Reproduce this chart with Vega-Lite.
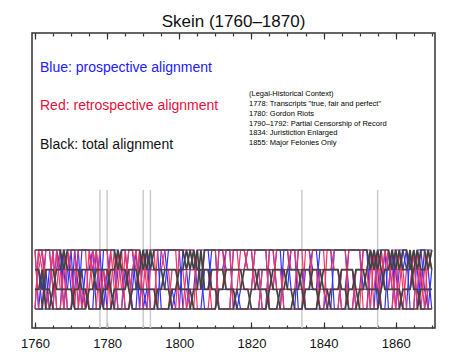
{
"$schema": "https://vega.github.io/schema/vega-lite/v6.json",
"width": 403, "height": 295,
"autosize": "none",
"padding": {"left": 32, "top": 33, "right": 32, "bottom": 33},
"background": "white",
"title": {"text": "Skein (1760–1870)", "font": "Liberation Sans", "fontSize": 17, "fontWeight": "normal", "color": "#111111", "baseline": "alphabetic", "offset": -12, "anchor": "middle"},
"config": {"view": {"stroke": "#333333", "strokeWidth": 1.5}, "axis": {"grid": false, "domain": false, "labelFont": "Liberation Sans", "labelFontSize": 13, "labelColor": "#111111", "tickColor": "#333333", "tickWidth": 1.2, "title": null}},
"data": {"values": [
{"year":1760,"b1":3,"b2":2,"b3":1,"b4":0,"r1":3,"r2":0,"r3":1,"r4":2,"u1":0,"u2":3,"u3":1,"u4":2},
{"year":1761,"b1":3,"b2":2,"b3":1,"b4":0,"r1":0,"r2":3,"r3":1,"r4":2,"u1":3,"u2":0,"u3":1,"u4":2},
{"year":1762,"b1":3,"b2":1,"b3":2,"b4":0,"r1":0,"r2":2,"r3":1,"r4":3,"u1":3,"u2":2,"u3":1,"u4":0},
{"year":1763,"b1":3,"b2":1,"b3":0,"b4":2,"r1":3,"r2":2,"r3":1,"r4":0,"u1":1,"u2":2,"u3":3,"u4":0},
{"year":1764,"b1":3,"b2":1,"b3":0,"b4":2,"r1":3,"r2":2,"r3":0,"r4":1,"u1":1,"u2":0,"u3":3,"u4":2},
{"year":1765,"b1":3,"b2":0,"b3":1,"b4":2,"r1":1,"r2":2,"r3":0,"r4":3,"u1":3,"u2":0,"u3":1,"u4":2},
{"year":1766,"b1":3,"b2":0,"b3":2,"b4":1,"r1":1,"r2":2,"r3":3,"r4":0,"u1":0,"u2":3,"u3":1,"u4":2},
{"year":1767,"b1":3,"b2":0,"b3":2,"b4":1,"r1":3,"r2":2,"r3":1,"r4":0,"u1":0,"u2":2,"u3":1,"u4":3},
{"year":1768,"b1":2,"b2":0,"b3":3,"b4":1,"r1":3,"r2":0,"r3":1,"r4":2,"u1":3,"u2":2,"u3":1,"u4":0},
{"year":1769,"b1":3,"b2":0,"b3":2,"b4":1,"r1":0,"r2":3,"r3":1,"r4":2,"u1":3,"u2":0,"u3":1,"u4":2},
{"year":1770,"b1":3,"b2":0,"b3":2,"b4":1,"r1":0,"r2":2,"r3":1,"r4":3,"u1":1,"u2":0,"u3":3,"u4":2},
{"year":1771,"b1":3,"b2":1,"b3":2,"b4":0,"r1":2,"r2":0,"r3":1,"r4":3,"u1":1,"u2":3,"u3":0,"u4":2},
{"year":1772,"b1":3,"b2":1,"b3":2,"b4":0,"r1":2,"r2":3,"r3":1,"r4":0,"u1":3,"u2":1,"u3":0,"u4":2},
{"year":1773,"b1":3,"b2":2,"b3":1,"b4":0,"r1":0,"r2":3,"r3":1,"r4":2,"u1":0,"u2":1,"u3":3,"u4":2},
{"year":1774,"b1":3,"b2":2,"b3":1,"b4":0,"r1":1,"r2":3,"r3":0,"r4":2,"u1":2,"u2":1,"u3":3,"u4":0},
{"year":1775,"b1":3,"b2":2,"b3":0,"b4":1,"r1":1,"r2":0,"r3":3,"r4":2,"u1":2,"u2":0,"u3":3,"u4":1},
{"year":1776,"b1":3,"b2":2,"b3":0,"b4":1,"r1":3,"r2":0,"r3":1,"r4":2,"u1":3,"u2":0,"u3":2,"u4":1},
{"year":1777,"b1":3,"b2":1,"b3":0,"b4":2,"r1":2,"r2":0,"r3":1,"r4":3,"u1":0,"u2":3,"u3":2,"u4":1},
{"year":1778,"b1":3,"b2":1,"b3":0,"b4":2,"r1":2,"r2":3,"r3":1,"r4":0,"u1":0,"u2":1,"u3":2,"u4":3},
{"year":1779,"b1":3,"b2":0,"b3":1,"b4":2,"r1":0,"r2":3,"r3":1,"r4":2,"u1":3,"u2":1,"u3":2,"u4":0},
{"year":1780,"b1":3,"b2":0,"b3":1,"b4":2,"r1":0,"r2":3,"r3":2,"r4":1,"u1":3,"u2":1,"u3":0,"u4":2},
{"year":1781,"b1":3,"b2":0,"b3":2,"b4":1,"r1":3,"r2":0,"r3":2,"r4":1,"u1":1,"u2":3,"u3":0,"u4":2},
{"year":1782,"b1":3,"b2":1,"b3":2,"b4":0,"r1":1,"r2":0,"r3":2,"r4":3,"u1":0,"u2":3,"u3":1,"u4":2},
{"year":1783,"b1":2,"b2":1,"b3":3,"b4":0,"r1":1,"r2":3,"r3":2,"r4":0,"u1":2,"u2":3,"u3":1,"u4":0},
{"year":1784,"b1":3,"b2":1,"b3":2,"b4":0,"r1":3,"r2":1,"r3":2,"r4":0,"u1":3,"u2":2,"u3":1,"u4":0},
{"year":1785,"b1":3,"b2":1,"b3":2,"b4":0,"r1":0,"r2":1,"r3":2,"r4":3,"u1":3,"u2":0,"u3":1,"u4":2},
{"year":1786,"b1":3,"b2":2,"b3":1,"b4":0,"r1":0,"r2":3,"r3":2,"r4":1,"u1":1,"u2":0,"u3":3,"u4":2},
{"year":1787,"b1":3,"b2":2,"b3":0,"b4":1,"r1":2,"r2":3,"r3":0,"r4":1,"u1":1,"u2":2,"u3":3,"u4":0},
{"year":1788,"b1":3,"b2":2,"b3":0,"b4":1,"r1":3,"r2":2,"r3":0,"r4":1,"u1":3,"u2":2,"u3":1,"u4":0},
{"year":1789,"b1":3,"b2":1,"b3":0,"b4":2,"r1":1,"r2":2,"r3":0,"r4":3,"u1":0,"u2":2,"u3":1,"u4":3},
{"year":1790,"b1":2,"b2":1,"b3":0,"b4":3,"r1":1,"r2":2,"r3":3,"r4":0,"u1":3,"u2":2,"u3":1,"u4":0},
{"year":1791,"b1":3,"b2":1,"b3":0,"b4":2,"r1":3,"r2":2,"r3":1,"r4":0,"u1":3,"u2":2,"u3":0,"u4":1},
{"year":1792,"b1":2,"b2":1,"b3":0,"b4":3,"r1":3,"r2":0,"r3":1,"r4":2,"u1":0,"u2":2,"u3":3,"u4":1},
{"year":1793,"b1":3,"b2":1,"b3":0,"b4":2,"r1":3,"r2":0,"r3":1,"r4":2,"u1":0,"u2":2,"u3":3,"u4":1},
{"year":1794,"b1":3,"b2":0,"b3":1,"b4":2,"r1":0,"r2":3,"r3":1,"r4":2,"u1":0,"u2":2,"u3":3,"u4":1},
{"year":1795,"b1":3,"b2":0,"b3":1,"b4":2,"r1":0,"r2":3,"r3":1,"r4":2,"u1":3,"u2":2,"u3":0,"u4":1},
{"year":1796,"b1":3,"b2":0,"b3":2,"b4":1,"r1":0,"r2":2,"r3":1,"r4":3,"u1":3,"u2":2,"u3":0,"u4":1},
{"year":1797,"b1":3,"b2":0,"b3":2,"b4":1,"r1":0,"r2":2,"r3":1,"r4":3,"u1":1,"u2":2,"u3":0,"u4":3},
{"year":1798,"b1":3,"b2":1,"b3":2,"b4":0,"r1":2,"r2":0,"r3":1,"r4":3,"u1":1,"u2":2,"u3":0,"u4":3},
{"year":1799,"b1":3,"b2":1,"b3":2,"b4":0,"r1":2,"r2":0,"r3":1,"r4":3,"u1":0,"u2":2,"u3":1,"u4":3},
{"year":1800,"b1":3,"b2":2,"b3":1,"b4":0,"r1":2,"r2":3,"r3":1,"r4":0,"u1":0,"u2":2,"u3":1,"u4":3},
{"year":1801,"b1":3,"b2":2,"b3":1,"b4":0,"r1":2,"r2":3,"r3":1,"r4":0,"u1":3,"u2":2,"u3":1,"u4":0},
{"year":1802,"b1":2,"b2":3,"b3":1,"b4":0,"r1":0,"r2":3,"r3":1,"r4":2,"u1":3,"u2":2,"u3":1,"u4":0},
{"year":1803,"b1":3,"b2":2,"b3":1,"b4":0,"r1":1,"r2":3,"r3":0,"r4":2,"u1":3,"u2":0,"u3":1,"u4":2},
{"year":1804,"b1":2,"b2":3,"b3":0,"b4":1,"r1":1,"r2":3,"r3":0,"r4":2,"u1":3,"u2":0,"u3":1,"u4":2},
{"year":1805,"b1":3,"b2":2,"b3":0,"b4":1,"r1":1,"r2":0,"r3":3,"r4":2,"u1":1,"u2":0,"u3":3,"u4":2},
{"year":1806,"b1":1,"b2":2,"b3":0,"b4":3,"r1":1,"r2":0,"r3":3,"r4":2,"u1":1,"u2":0,"u3":3,"u4":2},
{"year":1807,"b1":3,"b2":2,"b3":0,"b4":1,"r1":3,"r2":0,"r3":1,"r4":2,"u1":1,"u2":2,"u3":3,"u4":0},
{"year":1808,"b1":3,"b2":2,"b3":0,"b4":1,"r1":3,"r2":0,"r3":1,"r4":2,"u1":1,"u2":2,"u3":3,"u4":0},
{"year":1809,"b1":3,"b2":1,"b3":0,"b4":2,"r1":3,"r2":2,"r3":1,"r4":0,"u1":3,"u2":2,"u3":1,"u4":0},
{"year":1810,"b1":3,"b2":1,"b3":0,"b4":2,"r1":3,"r2":2,"r3":1,"r4":0,"u1":3,"u2":2,"u3":1,"u4":0},
{"year":1811,"b1":3,"b2":0,"b3":1,"b4":2,"r1":0,"r2":2,"r3":1,"r4":3,"u1":0,"u2":2,"u3":1,"u4":3},
{"year":1812,"b1":3,"b2":0,"b3":1,"b4":2,"r1":0,"r2":2,"r3":1,"r4":3,"u1":0,"u2":2,"u3":1,"u4":3},
{"year":1813,"b1":3,"b2":0,"b3":2,"b4":1,"r1":0,"r2":2,"r3":3,"r4":1,"u1":0,"u2":3,"u3":1,"u4":2},
{"year":1814,"b1":3,"b2":0,"b3":2,"b4":1,"r1":0,"r2":2,"r3":3,"r4":1,"u1":0,"u2":3,"u3":1,"u4":2},
{"year":1815,"b1":3,"b2":0,"b3":2,"b4":1,"r1":3,"r2":2,"r3":0,"r4":1,"u1":3,"u2":0,"u3":1,"u4":2},
{"year":1816,"b1":3,"b2":1,"b3":2,"b4":0,"r1":3,"r2":2,"r3":0,"r4":1,"u1":3,"u2":0,"u3":1,"u4":2},
{"year":1817,"b1":3,"b2":1,"b3":2,"b4":0,"r1":1,"r2":2,"r3":0,"r4":3,"u1":3,"u2":1,"u3":0,"u4":2},
{"year":1818,"b1":3,"b2":2,"b3":1,"b4":0,"r1":1,"r2":2,"r3":0,"r4":3,"u1":3,"u2":1,"u3":0,"u4":2},
{"year":1819,"b1":3,"b2":2,"b3":1,"b4":0,"r1":1,"r2":3,"r3":0,"r4":2,"u1":2,"u2":1,"u3":0,"u4":3},
{"year":1820,"b1":3,"b2":2,"b3":0,"b4":1,"r1":1,"r2":3,"r3":0,"r4":2,"u1":2,"u2":1,"u3":0,"u4":3},
{"year":1821,"b1":3,"b2":2,"b3":0,"b4":1,"r1":3,"r2":1,"r3":0,"r4":2,"u1":2,"u2":3,"u3":0,"u4":1},
{"year":1822,"b1":3,"b2":1,"b3":0,"b4":2,"r1":3,"r2":1,"r3":0,"r4":2,"u1":2,"u2":3,"u3":0,"u4":1},
{"year":1823,"b1":3,"b2":1,"b3":0,"b4":2,"r1":3,"r2":1,"r3":2,"r4":0,"u1":0,"u2":3,"u3":2,"u4":1},
{"year":1824,"b1":3,"b2":1,"b3":0,"b4":2,"r1":3,"r2":1,"r3":2,"r4":0,"u1":0,"u2":3,"u3":2,"u4":1},
{"year":1825,"b1":3,"b2":0,"b3":1,"b4":2,"r1":0,"r2":1,"r3":2,"r4":3,"u1":3,"u2":0,"u3":2,"u4":1},
{"year":1826,"b1":3,"b2":0,"b3":2,"b4":1,"r1":0,"r2":1,"r3":2,"r4":3,"u1":3,"u2":0,"u3":2,"u4":1},
{"year":1827,"b1":3,"b2":0,"b3":2,"b4":1,"r1":0,"r2":3,"r3":2,"r4":1,"u1":1,"u2":0,"u3":2,"u4":3},
{"year":1828,"b1":3,"b2":1,"b3":2,"b4":0,"r1":0,"r2":3,"r3":2,"r4":1,"u1":1,"u2":0,"u3":2,"u4":3},
{"year":1829,"b1":3,"b2":1,"b3":2,"b4":0,"r1":2,"r2":3,"r3":0,"r4":1,"u1":1,"u2":3,"u3":2,"u4":0},
{"year":1830,"b1":3,"b2":2,"b3":1,"b4":0,"r1":2,"r2":3,"r3":0,"r4":1,"u1":1,"u2":3,"u3":2,"u4":0},
{"year":1831,"b1":3,"b2":2,"b3":1,"b4":0,"r1":3,"r2":2,"r3":0,"r4":1,"u1":3,"u2":1,"u3":2,"u4":0},
{"year":1832,"b1":3,"b2":2,"b3":0,"b4":1,"r1":3,"r2":2,"r3":0,"r4":1,"u1":3,"u2":1,"u3":2,"u4":0},
{"year":1833,"b1":3,"b2":2,"b3":0,"b4":1,"r1":1,"r2":2,"r3":0,"r4":3,"u1":0,"u2":1,"u3":2,"u4":3},
{"year":1834,"b1":3,"b2":1,"b3":0,"b4":2,"r1":1,"r2":2,"r3":0,"r4":3,"u1":0,"u2":1,"u3":2,"u4":3},
{"year":1835,"b1":3,"b2":0,"b3":1,"b4":2,"r1":1,"r2":2,"r3":3,"r4":0,"u1":2,"u2":1,"u3":0,"u4":3},
{"year":1836,"b1":3,"b2":0,"b3":1,"b4":2,"r1":1,"r2":2,"r3":3,"r4":0,"u1":2,"u2":1,"u3":0,"u4":3},
{"year":1837,"b1":3,"b2":0,"b3":2,"b4":1,"r1":3,"r2":2,"r3":1,"r4":0,"u1":3,"u2":1,"u3":0,"u4":2},
{"year":1838,"b1":3,"b2":0,"b3":2,"b4":1,"r1":3,"r2":2,"r3":1,"r4":0,"u1":3,"u2":1,"u3":0,"u4":2},
{"year":1839,"b1":3,"b2":1,"b3":2,"b4":0,"r1":3,"r2":0,"r3":1,"r4":2,"u1":1,"u2":3,"u3":0,"u4":2},
{"year":1840,"b1":3,"b2":2,"b3":1,"b4":0,"r1":3,"r2":0,"r3":1,"r4":2,"u1":1,"u2":3,"u3":0,"u4":2},
{"year":1841,"b1":3,"b2":2,"b3":1,"b4":0,"r1":0,"r2":3,"r3":1,"r4":2,"u1":0,"u2":3,"u3":1,"u4":2},
{"year":1842,"b1":3,"b2":2,"b3":0,"b4":1,"r1":0,"r2":3,"r3":1,"r4":2,"u1":0,"u2":3,"u3":1,"u4":2},
{"year":1843,"b1":3,"b2":2,"b3":0,"b4":1,"r1":0,"r2":2,"r3":1,"r4":3,"u1":3,"u2":0,"u3":1,"u4":2},
{"year":1844,"b1":3,"b2":2,"b3":0,"b4":1,"r1":0,"r2":2,"r3":1,"r4":3,"u1":3,"u2":0,"u3":1,"u4":2},
{"year":1845,"b1":3,"b2":1,"b3":0,"b4":2,"r1":2,"r2":0,"r3":1,"r4":3,"u1":3,"u2":2,"u3":1,"u4":0},
{"year":1846,"b1":3,"b2":1,"b3":0,"b4":2,"r1":2,"r2":0,"r3":1,"r4":3,"u1":3,"u2":2,"u3":1,"u4":0},
{"year":1847,"b1":3,"b2":0,"b3":1,"b4":2,"r1":2,"r2":3,"r3":1,"r4":0,"u1":1,"u2":2,"u3":3,"u4":0},
{"year":1848,"b1":3,"b2":0,"b3":1,"b4":2,"r1":2,"r2":3,"r3":1,"r4":0,"u1":1,"u2":2,"u3":3,"u4":0},
{"year":1849,"b1":3,"b2":0,"b3":2,"b4":1,"r1":0,"r2":3,"r3":1,"r4":2,"u1":1,"u2":0,"u3":3,"u4":2},
{"year":1850,"b1":3,"b2":1,"b3":2,"b4":0,"r1":0,"r2":3,"r3":1,"r4":2,"u1":1,"u2":0,"u3":3,"u4":2},
{"year":1851,"b1":3,"b2":1,"b3":2,"b4":0,"r1":3,"r2":0,"r3":1,"r4":2,"u1":3,"u2":0,"u3":1,"u4":2},
{"year":1852,"b1":3,"b2":2,"b3":1,"b4":0,"r1":3,"r2":0,"r3":1,"r4":2,"u1":3,"u2":0,"u3":1,"u4":2},
{"year":1853,"b1":2,"b2":3,"b3":1,"b4":0,"r1":3,"r2":2,"r3":1,"r4":0,"u1":0,"u2":3,"u3":1,"u4":2},
{"year":1854,"b1":3,"b2":2,"b3":1,"b4":0,"r1":0,"r2":2,"r3":1,"r4":3,"u1":0,"u2":2,"u3":1,"u4":3},
{"year":1855,"b1":2,"b2":3,"b3":1,"b4":0,"r1":0,"r2":2,"r3":3,"r4":1,"u1":3,"u2":2,"u3":1,"u4":0},
{"year":1856,"b1":3,"b2":2,"b3":0,"b4":1,"r1":3,"r2":2,"r3":0,"r4":1,"u1":3,"u2":0,"u3":1,"u4":2},
{"year":1857,"b1":3,"b2":1,"b3":0,"b4":2,"r1":1,"r2":2,"r3":0,"r4":3,"u1":1,"u2":0,"u3":3,"u4":2},
{"year":1858,"b1":3,"b2":1,"b3":0,"b4":2,"r1":1,"r2":3,"r3":0,"r4":2,"u1":1,"u2":3,"u3":0,"u4":2},
{"year":1859,"b1":2,"b2":1,"b3":0,"b4":3,"r1":3,"r2":1,"r3":0,"r4":2,"u1":3,"u2":1,"u3":0,"u4":2},
{"year":1860,"b1":3,"b2":1,"b3":0,"b4":2,"r1":3,"r2":1,"r3":2,"r4":0,"u1":0,"u2":1,"u3":3,"u4":2},
{"year":1861,"b1":2,"b2":1,"b3":0,"b4":3,"r1":0,"r2":1,"r3":2,"r4":3,"u1":2,"u2":1,"u3":3,"u4":0},
{"year":1862,"b1":3,"b2":0,"b3":1,"b4":2,"r1":0,"r2":3,"r3":2,"r4":1,"u1":2,"u2":0,"u3":3,"u4":1},
{"year":1863,"b1":3,"b2":0,"b3":1,"b4":2,"r1":2,"r2":3,"r3":0,"r4":1,"u1":3,"u2":0,"u3":2,"u4":1},
{"year":1864,"b1":2,"b2":0,"b3":1,"b4":3,"r1":3,"r2":2,"r3":0,"r4":1,"u1":0,"u2":3,"u3":2,"u4":1},
{"year":1865,"b1":3,"b2":0,"b3":2,"b4":1,"r1":1,"r2":2,"r3":0,"r4":3,"u1":0,"u2":1,"u3":2,"u4":3},
{"year":1866,"b1":2,"b2":0,"b3":3,"b4":1,"r1":1,"r2":2,"r3":3,"r4":0,"u1":3,"u2":1,"u3":2,"u4":0},
{"year":1867,"b1":3,"b2":1,"b3":2,"b4":0,"r1":3,"r2":2,"r3":1,"r4":0,"u1":3,"u2":1,"u3":0,"u4":2},
{"year":1868,"b1":3,"b2":1,"b3":2,"b4":0,"r1":3,"r2":0,"r3":1,"r4":2,"u1":1,"u2":3,"u3":0,"u4":2},
{"year":1869,"b1":2,"b2":1,"b3":3,"b4":0,"r1":0,"r2":3,"r3":1,"r4":2,"u1":0,"u2":3,"u3":1,"u4":2},
{"year":1870,"b1":3,"b2":1,"b3":2,"b4":0,"r1":0,"r2":2,"r3":1,"r4":3,"u1":2,"u2":3,"u3":1,"u4":0}
]},
"resolve": {"axis": {"x": "independent", "y": "independent"}},
"layer": [
{
"data": {"values": [{"event": 1778}, {"event": 1780}, {"event": 1790}, {"event": 1792}, {"event": 1834}, {"event": 1855}]},
"mark": {"type": "rule", "color": "#cccccc", "strokeWidth": 1.5},
"encoding": {
"x": {"field": "event", "type": "quantitative", "scale": {"domain": [1759.17, 1870.9], "nice": false, "zero": false},
"axis": {"orient": "bottom", "values": [1760, 1780, 1800, 1820, 1840, 1860], "ticks": false, "labelPadding": 9, "format": "d"}},
"y": {"datum": 6.05, "type": "quantitative", "scale": {"domain": [-0.966, 14.03], "nice": false, "zero": false}, "axis": null},
"y2": {"datum": -0.966}
}
},
{
"transform": [{"fold": ["u1", "u2", "u3", "u4"], "as": ["strand", "level"]}],
"mark": {"type": "line", "color": "#3030ff", "strokeWidth": 1.2},
"encoding": {
"x": {"field": "year", "type": "quantitative", "scale": {"domain": [1759.17, 1870.9], "nice": false, "zero": false},
"axis": {"orient": "bottom", "values": [1760, 1780, 1800, 1820, 1840, 1860], "labels": false, "tickSize": -6}},
"y": {"field": "level", "type": "quantitative", "scale": {"domain": [-0.966, 14.03], "nice": false, "zero": false}, "axis": null},
"detail": {"field": "strand"}
}
},
{
"transform": [{"fold": ["r1", "r2", "r3", "r4"], "as": ["strand", "level"]}],
"mark": {"type": "line", "color": "#f03562", "strokeWidth": 1.2},
"encoding": {
"x": {"field": "year", "type": "quantitative", "scale": {"domain": [1759.17, 1870.9], "nice": false, "zero": false},
"axis": {"orient": "bottom", "values": [1760,1765,1770,1775,1780,1785,1790,1795,1800,1805,1810,1815,1820,1825,1830,1835,1840,1845,1850,1855,1860,1865,1870], "labels": false, "tickSize": -3}},
"y": {"field": "level", "type": "quantitative", "scale": {"domain": [-0.966, 14.03], "nice": false, "zero": false}, "axis": null},
"detail": {"field": "strand"}
}
},
{
"transform": [{"fold": ["b1", "b2", "b3", "b4"], "as": ["strand", "level"]}],
"mark": {"type": "line", "color": "#424242", "strokeWidth": 1.7},
"encoding": {
"x": {"field": "year", "type": "quantitative", "scale": {"domain": [1759.17, 1870.9], "nice": false, "zero": false},
"axis": {"orient": "top", "values": [1760, 1780, 1800, 1820, 1840, 1860], "labels": false, "tickSize": -6}},
"y": {"field": "level", "type": "quantitative", "scale": {"domain": [-0.966, 14.03], "nice": false, "zero": false}, "axis": null},
"detail": {"field": "strand"}
}
},
{
"data": {"values": [{}]},
"mark": {"type": "text", "text": "Blue: prospective alignment", "color": "#2020ff", "font": "Liberation Sans", "fontSize": 14, "align": "left", "baseline": "middle"},
"encoding": {
"x": {"datum": 1761.39, "type": "quantitative", "scale": {"domain": [1759.17, 1870.9], "nice": false, "zero": false},
"axis": {"orient": "top", "values": [1760,1765,1770,1775,1780,1785,1790,1795,1800,1805,1810,1815,1820,1825,1830,1835,1840,1845,1850,1855,1860,1865,1870], "labels": false, "tickSize": -3}},
"y": {"datum": 12.25, "type": "quantitative", "axis": null}
}
},
{
"data": {"values": [{}]},
"mark": {"type": "text", "text": "Red: retrospective alignment", "color": "#e8103c", "font": "Liberation Sans", "fontSize": 14, "align": "left", "baseline": "middle"},
"encoding": {
"x": {"datum": 1761.39, "type": "quantitative", "axis": null},
"y": {"datum": 10.32, "type": "quantitative", "axis": null}
}
},
{
"data": {"values": [{}]},
"mark": {"type": "text", "text": "Black: total alignment", "color": "#111111", "font": "Liberation Sans", "fontSize": 14, "align": "left", "baseline": "middle"},
"encoding": {
"x": {"datum": 1761.39, "type": "quantitative", "axis": null},
"y": {"datum": 8.34, "type": "quantitative", "axis": null}
}
},
{
"data": {"values": [{}]},
"mark": {"type": "text", "text": ["(Legal-Historical Context)", "1778: Transcripts \"true, fair and perfect\"", "1780: Gordon Riots", "1790–1792: Partial Censorship of Record", "1834: Juristiction Enlarged", "1855: Major Felonies Only"], "color": "#000000", "font": "Liberation Sans", "fontSize": 7.5, "lineHeight": 9.8, "align": "left", "baseline": "middle"},
"encoding": {
"x": {"datum": 1819.33, "type": "quantitative", "axis": null},
"y": {"datum": 10.92, "type": "quantitative", "axis": null}
}
}
]
}
